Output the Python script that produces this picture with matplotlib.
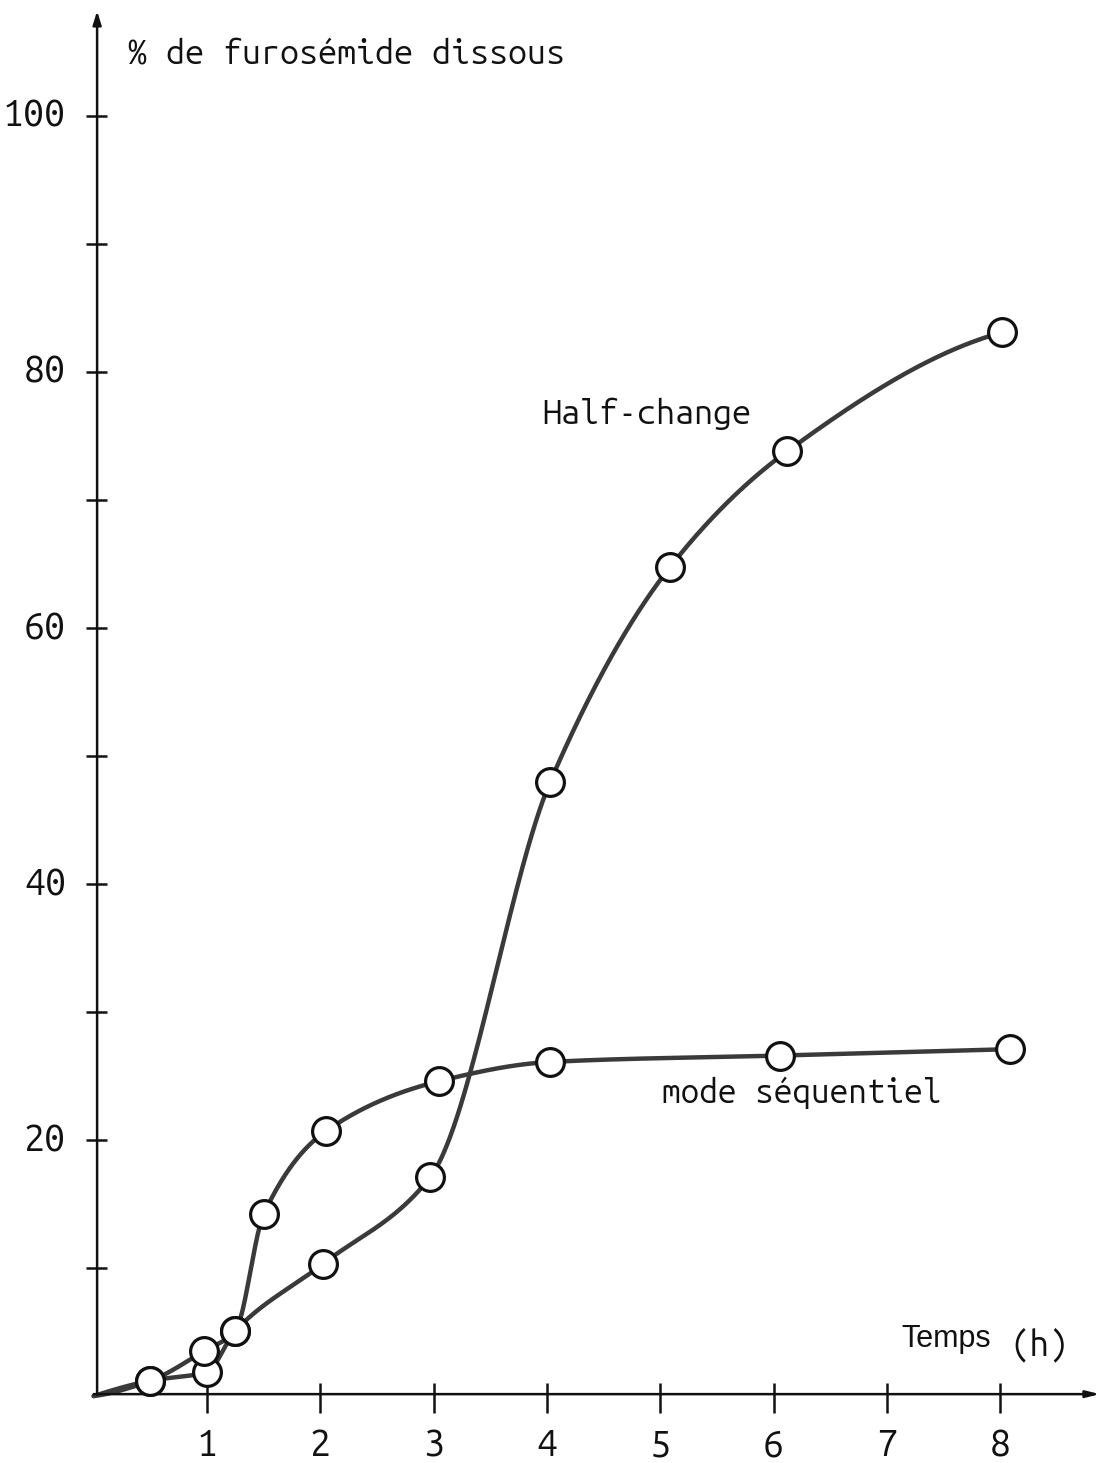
import numpy as np
import matplotlib
matplotlib.use("Agg")
import matplotlib.pyplot as plt

# Dissolution data: time (h) and % furosemide dissolved
half_t = [0.0, 0.5, 1.0, 1.25, 2.02, 2.97, 4.03, 5.09, 6.12, 8.02]
half_y = [0.0, 1.2, 1.9, 5.1, 10.3, 17.1, 48.0, 64.8, 73.8, 83.1]

seq_t = [0.0, 0.5, 0.97, 1.25, 1.5, 2.05, 3.05, 4.03, 6.06, 8.09]
seq_y = [0.0, 1.2, 3.5, 5.1, 14.2, 20.7, 24.6, 26.1, 26.6, 27.1]

x_ticks = [1, 2, 3, 4, 5, 6, 7, 8]
y_major = [20, 40, 60, 80, 100]
y_minor = [10, 30, 50, 70, 90]


def _end_slope(h0, h1, d0, d1):
    m = ((2 * h0 + h1) * d0 - h0 * d1) / (h0 + h1)
    if np.sign(m) != np.sign(d0):
        return 0.0
    if np.sign(d0) != np.sign(d1) and abs(m) > abs(3 * d0):
        return 3 * d0
    return m


def pchip(x, y, xs):
    """Monotone cubic Hermite (Fritsch-Carlson) curve through the points."""
    x = np.asarray(x, float)
    y = np.asarray(y, float)
    h = np.diff(x)
    d = np.diff(y) / h
    n = len(x)
    m = np.zeros(n)
    for k in range(1, n - 1):
        if d[k - 1] * d[k] <= 0:
            m[k] = 0.0
        else:
            w1 = 2 * h[k] + h[k - 1]
            w2 = h[k] + 2 * h[k - 1]
            m[k] = (w1 + w2) / (w1 / d[k - 1] + w2 / d[k])
    m[0] = _end_slope(h[0], h[1], d[0], d[1])
    m[-1] = _end_slope(h[-1], h[-2], d[-1], d[-2])
    idx = np.clip(np.searchsorted(x, xs) - 1, 0, n - 2)
    t = (xs - x[idx]) / h[idx]
    h00 = 2 * t**3 - 3 * t**2 + 1
    h10 = t**3 - 2 * t**2 + t
    h01 = -2 * t**3 + 3 * t**2
    h11 = t**3 - t**2
    return (h00 * y[idx] + h10 * h[idx] * m[idx]
            + h01 * y[idx + 1] + h11 * h[idx] * m[idx + 1])


fig = plt.figure(figsize=(11.08, 14.63), dpi=100)
ax = fig.add_axes([0, 0, 1, 1])
ax.set_xlim(-0.827, 8.952)
ax.set_ylim(-5.23, 109.06)
for s in ax.spines.values():
    s.set_visible(False)
ax.set_xticks([])
ax.set_yticks([])

mono = ["Ubuntu Mono", "DejaVu Sans Mono"]
sans = ["Liberation Sans", "DejaVu Sans"]
ink = "#111111"
curve = "#3a3a3a"

# Axes with arrow heads
ax.annotate("", xy=(0.03, 108.2), xytext=(0.03, 0.1),
            arrowprops=dict(arrowstyle="-|>,head_length=0.8,head_width=0.25",
                            color=ink, lw=1.8, shrinkA=0, shrinkB=0))
ax.annotate("", xy=(8.88, 0.15), xytext=(0.0, 0.15),
            arrowprops=dict(arrowstyle="-|>,head_length=0.8,head_width=0.2",
                            color=ink, lw=1.8, shrinkA=0, shrinkB=0))

# Y ticks crossing the axis
for v in y_major + y_minor:
    ax.plot([-0.065, 0.115], [v, v], color=ink, lw=1.8, solid_capstyle="butt")
for v in y_major:
    ax.text(-0.245, v, str(v), ha="right", va="center",
            fontsize=27, family=mono, color=ink)

# X ticks crossing the axis
for v in x_ticks:
    ax.plot([v, v], [1.0, -1.35], color=ink, lw=1.8, solid_capstyle="butt")
    ax.text(v, -2.45, str(v), ha="center", va="top",
            fontsize=27, family=mono, color=ink)

# Smoothed curves through the measured points
for tt, yy in [(half_t, half_y), (seq_t, seq_y)]:
    xs = np.linspace(tt[0], tt[-1], 800)
    ax.plot(xs, pchip(tt, yy, xs), color=curve, lw=3.2, zorder=2,
            solid_capstyle="round")
    ax.plot(tt[1:], yy[1:], "o", ms=20, mfc="white", mec=ink, mew=2.3,
            zorder=3)

# Labels
ax.text(0.303, 104.1, "% de furosémide dissous", ha="left", va="baseline",
        fontsize=24.5, family=mono, color=ink)
ax.text(3.96, 75.9, "Half-change", ha="left", va="baseline",
        fontsize=24.5, family=mono, color=ink)
ax.text(5.02, 22.9, "mode séquentiel", ha="left", va="baseline",
        fontsize=24, family=mono, color=ink)
ax.text(7.13, 3.83, "Temps", ha="left", va="baseline",
        fontsize=22, family=sans, color=ink)
ax.text(8.09, 3.2, "(h)", ha="left", va="baseline",
        fontsize=25, family=mono, color=ink)

fig.savefig("out.png", dpi=100)
